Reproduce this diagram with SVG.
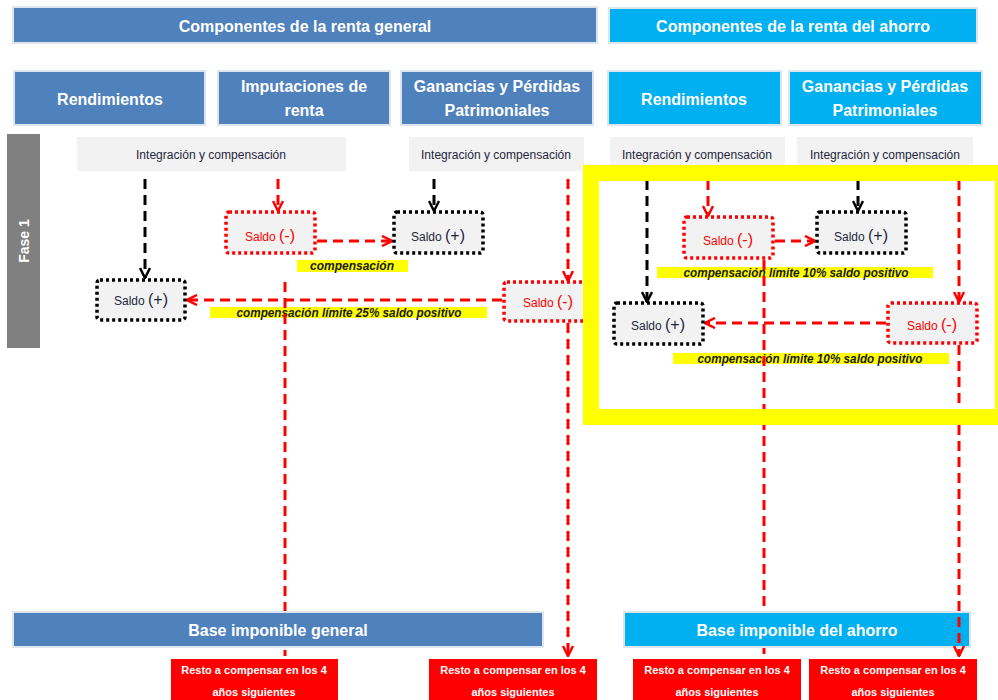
<svg xmlns="http://www.w3.org/2000/svg" width="998" height="700" viewBox="0 0 998 700">
<style>
.hdr{font-family:"Liberation Sans",Arial,sans-serif;font-weight:bold;font-size:16px;fill:#fff;text-anchor:middle}
.gen{fill:#4f81bd;stroke:#dfe5ee;stroke-width:2}
.aho{fill:#00b0f0;stroke:#dfe5ee;stroke-width:2}
.int{fill:#f2f2f2}
.intt{font-family:"Liberation Sans",Arial,sans-serif;font-size:12px;fill:#1f2740;text-anchor:middle}
.sbk{fill:#f2f2f2;stroke:#000;stroke-width:3.5;stroke-dasharray:3 3}
.srd{fill:#f2f2f2;stroke:#ff0000;stroke-width:3.5;stroke-dasharray:3 3}
.stk{font-family:"Liberation Sans",Arial,sans-serif;font-size:12px;fill:#1f2740;text-anchor:middle}
.str{font-family:"Liberation Sans",Arial,sans-serif;font-size:12px;fill:#ff0000;text-anchor:middle}
.par{font-size:16px}
.ylw{fill:#ffff00}
.lbl{font-family:"Liberation Sans",Arial,sans-serif;font-size:12px;font-weight:bold;font-style:italic;fill:#1a1a1a;text-anchor:middle}
.rd{fill:none;stroke:#ff0000;stroke-width:3;stroke-dasharray:10 6}
.bk{fill:none;stroke:#000;stroke-width:3;stroke-dasharray:10 6}
.resto{fill:#ff0000}
.rt{font-family:"Liberation Sans",Arial,sans-serif;font-size:11px;font-weight:bold;fill:#fff;text-anchor:middle}
</style>
<defs>
<marker id="ar" viewBox="0 0 12 12" refX="11" refY="6" markerWidth="12" markerHeight="12" orient="auto" markerUnits="userSpaceOnUse">
<path d="M1,1 L11,6 L1,11" fill="none" stroke="#ff0000" stroke-width="2.5"/>
</marker>
<marker id="ab" viewBox="0 0 12 12" refX="11" refY="6" markerWidth="12" markerHeight="12" orient="auto" markerUnits="userSpaceOnUse">
<path d="M1,1 L11,6 L1,11" fill="none" stroke="#000" stroke-width="2.5"/>
</marker>
</defs>
<rect width="998" height="700" fill="#fff"/>

<g id="hdr-general"><rect class="gen" x="13" y="7" width="584" height="36"/><text class="hdr" x="305" y="32">Componentes de la renta general</text></g>
<g id="hdr-ahorro"><rect class="aho" x="609" y="8" width="368" height="35"/><text class="hdr" x="793" y="32">Componentes de la renta del ahorro</text></g>

<g id="rend-gen"><rect class="gen" x="14" y="71" width="191" height="54"/><text class="hdr" x="110" y="105">Rendimientos</text></g>
<g id="imput-gen"><rect class="gen" x="218" y="71" width="172" height="54"/><text class="hdr" x="304" y="92">Imputaciones de</text><text class="hdr" x="304" y="116">renta</text></g>
<g id="gan-gen"><rect class="gen" x="401" y="71" width="192" height="54"/><text class="hdr" x="497" y="92">Ganancias y Pérdidas</text><text class="hdr" x="497" y="116">Patrimoniales</text></g>
<g id="rend-aho"><rect class="aho" x="608" y="71" width="173" height="54"/><text class="hdr" x="694" y="105">Rendimientos</text></g>
<g id="gan-aho"><rect class="aho" x="789" y="71" width="193" height="54"/><text class="hdr" x="885" y="92">Ganancias y Pérdidas</text><text class="hdr" x="885" y="116">Patrimoniales</text></g>

<g id="fase1"><rect x="7" y="134" width="33" height="214" fill="#808080"/><text class="hdr" transform="rotate(-90 24 241)" x="24" y="246" style="font-size:14px">Fase 1</text></g>

<g id="int1"><rect class="int" x="77" y="137" width="269" height="34"/><text class="intt" x="211" y="159" textLength="150" lengthAdjust="spacingAndGlyphs">Integración y compensación</text></g>
<g id="int2"><rect class="int" x="409" y="137" width="175" height="34"/><text class="intt" x="496" y="159" textLength="150" lengthAdjust="spacingAndGlyphs">Integración y compensación</text></g>
<g id="int3"><rect class="int" x="610" y="137" width="175" height="34"/><text class="intt" x="697" y="159" textLength="150" lengthAdjust="spacingAndGlyphs">Integración y compensación</text></g>
<g id="int4"><rect class="int" x="797" y="137" width="176" height="34"/><text class="intt" x="885" y="159" textLength="150" lengthAdjust="spacingAndGlyphs">Integración y compensación</text></g>

<g id="labels">
<rect class="ylw" x="297" y="260" width="111" height="12"/><text class="lbl" x="352" y="270">compensación</text>
<rect class="ylw" x="210" y="307" width="277" height="11"/><text class="lbl" x="349" y="317" textLength="225" lengthAdjust="spacingAndGlyphs">compensación límite 25% saldo positivo</text>
<rect class="ylw" x="657" y="267" width="276" height="11"/><text class="lbl" x="796" y="277" textLength="225" lengthAdjust="spacingAndGlyphs">compensación límite 10% saldo positivo</text>
<rect class="ylw" x="673" y="353" width="276" height="11"/><text class="lbl" x="810" y="363" textLength="225" lengthAdjust="spacingAndGlyphs">compensación límite 10% saldo positivo</text>
</g>

<g id="connectors">
<line class="bk" x1="145" y1="179" x2="145" y2="278" marker-end="url(#ab)"/>
<line class="rd" x1="278" y1="179" x2="278" y2="211" marker-end="url(#ar)"/>
<line class="rd" x1="317" y1="241" x2="392" y2="241" marker-end="url(#ar)"/>
<line class="bk" x1="434" y1="179" x2="434" y2="211" marker-end="url(#ab)"/>
<line class="rd" x1="568" y1="179" x2="568" y2="281" marker-end="url(#ar)"/>
<line class="rd" x1="502" y1="300" x2="187" y2="300" marker-end="url(#ar)"/>
<line class="rd" x1="285" y1="282" x2="285" y2="656"/>
<line class="rd" x1="568" y1="323" x2="568" y2="656" marker-end="url(#ar)"/>
<line class="bk" x1="647" y1="180" x2="647" y2="302" marker-end="url(#ab)"/>
<line class="rd" x1="708" y1="180" x2="708" y2="216" marker-end="url(#ar)"/>
<line class="rd" x1="775" y1="241" x2="815" y2="241" marker-end="url(#ar)"/>
<line class="bk" x1="858" y1="180" x2="858" y2="211" marker-end="url(#ab)"/>
<line class="rd" x1="959" y1="180" x2="959" y2="302" marker-end="url(#ar)"/>
<line class="rd" x1="886" y1="323" x2="705" y2="323" marker-end="url(#ar)"/>
<line class="rd" x1="764" y1="260" x2="764" y2="656"/>
<line class="rd" x1="959" y1="345" x2="959" y2="412"/>
</g>

<g id="saldo-pos-rend-gen"><rect class="sbk" x="97" y="280" width="88" height="40" rx="3"/><text class="stk" x="141" y="305">Saldo <tspan class="par">(+)</tspan></text></g>
<g id="saldo-neg-imput"><rect class="srd" x="226" y="212" width="89" height="41" rx="3"/><text class="str" x="270" y="241">Saldo <tspan class="par">(-)</tspan></text></g>
<g id="saldo-pos-gan-gen"><rect class="sbk" x="394" y="212" width="89" height="41" rx="3"/><text class="stk" x="438" y="241">Saldo <tspan class="par">(+)</tspan></text></g>
<g id="saldo-neg-gan-gen"><rect class="srd" x="504" y="282" width="86" height="39" rx="3"/><text class="str" x="548" y="307">Saldo <tspan class="par">(-)</tspan></text></g>
<g id="saldo-neg-rend-aho"><rect class="srd" x="684" y="217" width="89" height="41" rx="3"/><text class="str" x="728" y="245">Saldo <tspan class="par">(-)</tspan></text></g>
<g id="saldo-pos-gan-aho"><rect class="sbk" x="817" y="212" width="89" height="41" rx="3"/><text class="stk" x="861" y="241">Saldo <tspan class="par">(+)</tspan></text></g>
<g id="saldo-pos-rend-aho"><rect class="sbk" x="614" y="303" width="89" height="41" rx="3"/><text class="stk" x="658" y="330">Saldo <tspan class="par">(+)</tspan></text></g>
<g id="saldo-neg-gan-aho"><rect class="srd" x="888" y="303" width="89" height="40" rx="3"/><text class="str" x="932" y="330">Saldo <tspan class="par">(-)</tspan></text></g>

<g id="frame-ahorro"><rect x="591" y="173" width="412" height="244" fill="none" stroke="#ffff00" stroke-width="16"/></g>

<g id="base-general"><rect class="gen" x="13" y="612" width="530" height="35"/><text class="hdr" x="278" y="636">Base imponible general</text></g>
<g id="base-ahorro"><rect class="aho" x="624" y="612" width="346" height="35"/><text class="hdr" x="797" y="636">Base imponible del ahorro</text></g>

<g id="connectors-top">
<line class="rd" x1="959" y1="425" x2="959" y2="656" marker-end="url(#ar)"/>
</g>

<g id="resto1"><rect class="resto" x="171" y="659" width="167" height="41"/><text class="rt" x="254" y="674">Resto a compensar en los 4</text><text class="rt" x="254" y="696">años siguientes</text></g>
<g id="resto2"><rect class="resto" x="429" y="659" width="168" height="41"/><text class="rt" x="513" y="674">Resto a compensar en los 4</text><text class="rt" x="513" y="696">años siguientes</text></g>
<g id="resto3"><rect class="resto" x="633" y="659" width="168" height="41"/><text class="rt" x="717" y="674">Resto a compensar en los 4</text><text class="rt" x="717" y="696">años siguientes</text></g>
<g id="resto4"><rect class="resto" x="809" y="659" width="168" height="41"/><text class="rt" x="893" y="674">Resto a compensar en los 4</text><text class="rt" x="893" y="696">años siguientes</text></g>
</svg>
